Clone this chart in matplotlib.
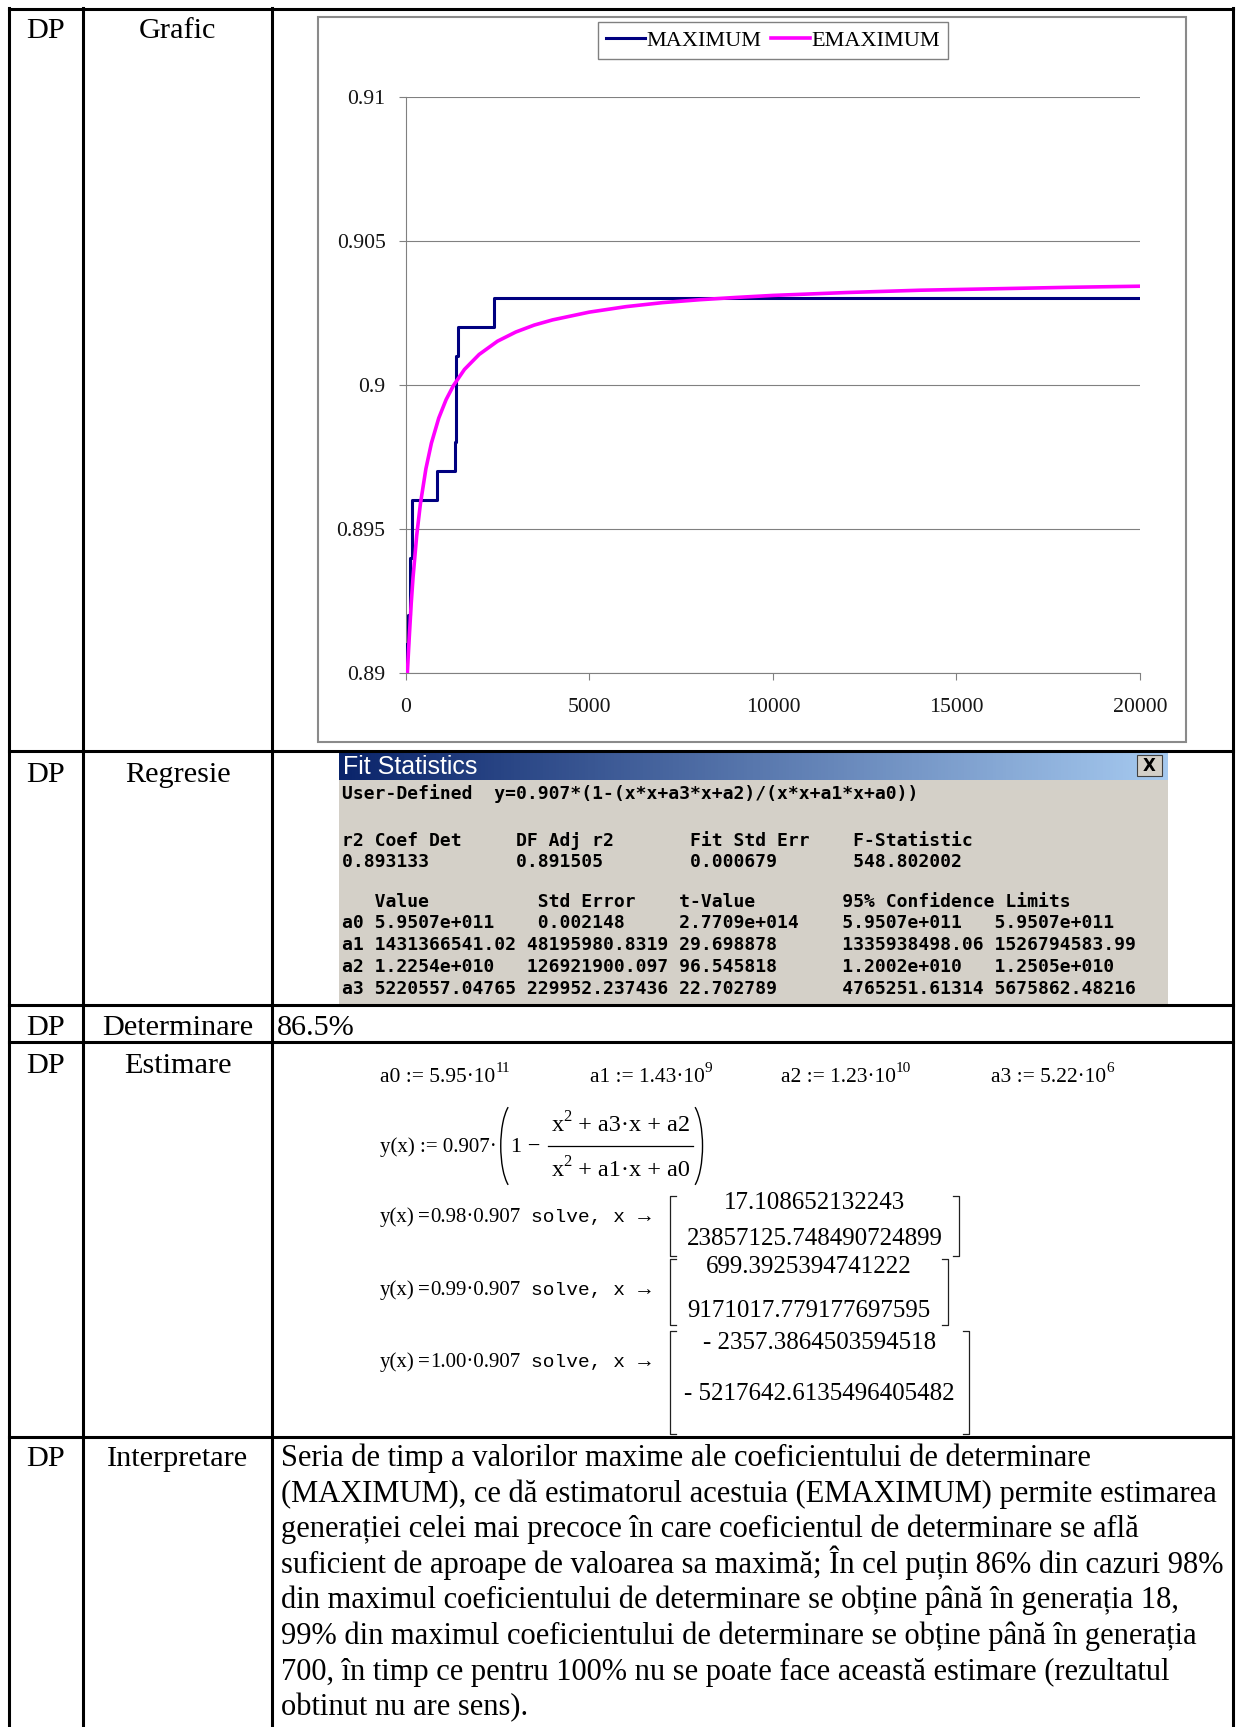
import numpy as np
import matplotlib
matplotlib.use("Agg")
import matplotlib.pyplot as plt
from matplotlib.patches import Rectangle, Arc
from matplotlib.colors import LinearSegmentedColormap
from matplotlib.ticker import FuncFormatter

plt.rcParams["font.family"] = ["Liberation Serif", "DejaVu Serif"]

W, H = 1236, 1727

# ---------------- chart data ----------------
# MAXIMUM: generation where each new best value first appears (step series)
max_gen = [0, 20, 60, 120, 170, 860, 1343, 1360, 1433, 2400, 20000]
max_val = [0.890, 0.891, 0.892, 0.894, 0.896, 0.897, 0.898, 0.901, 0.902, 0.903, 0.903]

# EMAXIMUM: estimator curve
emax_gen = [45, 100, 150, 200, 300, 400, 550, 700, 900, 1100, 1300, 1600, 2000,
            2500, 3000, 3500, 4000, 5000, 6000, 7000, 8000, 9000, 10000, 12000,
            14000, 16000, 18000, 20000]
emax_val = [0.89000, 0.89130, 0.89240, 0.89331, 0.89477, 0.89586, 0.89708, 0.89797,
            0.89884, 0.89948, 0.89997, 0.90053, 0.90105, 0.90151, 0.90183, 0.90207,
            0.90225, 0.90252, 0.90271, 0.90285, 0.90295, 0.90303, 0.90310, 0.90320,
            0.90328, 0.90333, 0.90338, 0.90342]

x_ticks = [0, 5000, 10000, 15000, 20000]
y_ticks = [0.89, 0.895, 0.9, 0.905, 0.91]
series_names = ["MAXIMUM", "EMAXIMUM"]

# ---------------- table text ----------------
row_code = "DP"
row_labels = ["Grafic", "Regresie", "Determinare", "Estimare", "Interpretare"]
determinare_value = "86.5%"

fit_title = "Fit Statistics"
fit_rows = [
    "User-Defined  y=0.907*(1-(x*x+a3*x+a2)/(x*x+a1*x+a0))",
    "r2 Coef Det     DF Adj r2       Fit Std Err    F-Statistic",
    "0.893133        0.891505        0.000679       548.802002",
    "   Value          Std Error    t-Value        95% Confidence Limits",
    "a0 5.9507e+011    0.002148     2.7709e+014    5.9507e+011   5.9507e+011",
    "a1 1431366541.02 48195980.8319 29.698878      1335938498.06 1526794583.99",
    "a2 1.2254e+010   126921900.097 96.545818      1.2002e+010   1.2505e+010",
    "a3 5220557.04765 229952.237436 22.702789      4765251.61314 5675862.48216",
]

coef_names = ["a0", "a1", "a2", "a3"]
coef_mant = ["5.95", "1.43", "1.23", "5.22"]
coef_exp = ["11", "9", "10", "6"]

solve_levels = ["0.98", "0.99", "1.00"]
solve_roots = [
    ["17.108652132243", "23857125.748490724899"],
    ["699.3925394741222", "9171017.779177697595"],
    ["- 2357.3864503594518", "- 5217642.6135496405482"],
]

interp_lines = [
    "Seria de timp a valorilor maxime ale coeficientului de determinare",
    "(MAXIMUM), ce dă estimatorul acestuia (EMAXIMUM) permite estimarea",
    "generației celei mai precoce în care coeficientul de determinare se află",
    "suficient de aproape de valoarea sa maximă; În cel puțin 86% din cazuri 98%",
    "din maximul coeficientului de determinare se obține până în generația 18,",
    "99% din maximul coeficientului de determinare se obține până în generația",
    "700, în timp ce pentru 100% nu se poate face această estimare (rezultatul",
    "obtinut nu are sens).",
]

# ---------------- figure & page ----------------
fig = plt.figure(figsize=(W / 100, H / 100), dpi=100)
fig.patch.set_facecolor("white")
page = fig.add_axes([0, 0, 1, 1])
page.set_xlim(0, W)
page.set_ylim(H, 0)
page.axis("off")
renderer = fig.canvas.get_renderer()

LBL = 21.8   # table font size
RULE = 2.2   # table rule width

# table grid
col_x = [9, 83, 272, 1233]
row_y = [9, 751, 1005, 1042, 1437]
for x in col_x:
    page.plot([x, x], [row_y[0] - 1, H + 5], color="black", lw=RULE,
              solid_capstyle="projecting", zorder=5)
for y in row_y:
    page.plot([col_x[0], col_x[-1]], [y, y], color="black", lw=RULE,
              solid_capstyle="projecting", zorder=5)

# row labels
label_base = [38, 782, 1035, 1073, 1466]
for lab, yb in zip(row_labels, label_base):
    page.text(46, yb, row_code, ha="center", va="baseline", fontsize=LBL)
    page.text(177.5, yb, lab, ha="center", va="baseline", fontsize=LBL)

page.text(277, 1035, determinare_value, ha="left", va="baseline", fontsize=LBL)

# ---------------- chart ----------------
page.add_patch(Rectangle((318, 17), 868, 725, facecolor="white",
                         edgecolor="#8a8a8a", lw=1.5, zorder=1))

ax = fig.add_axes([405.7 / W, 1 - 672.7 / H, (1140 - 405.7) / W, (672.7 - 96.7) / H])
ax.set_facecolor("none")
ax.step(max_gen, max_val, where="post", color="#000080", lw=2.2,
        label=series_names[0], zorder=3)
ax.plot(emax_gen, emax_val, color="#FF00FF", lw=2.6, label=series_names[1], zorder=4)
ax.set_xlim(0, 20000)
ax.set_ylim(0.89, 0.91)
ax.set_xticks(x_ticks)
ax.set_yticks(y_ticks)
ax.yaxis.set_major_formatter(FuncFormatter(lambda v, p: f"{v:g}"))
ax.xaxis.set_major_formatter(FuncFormatter(lambda v, p: f"{v:g}"))
ax.yaxis.grid(True, color="#808080", lw=0.8)
ax.set_axisbelow(True)
for s in ["top", "right"]:
    ax.spines[s].set_visible(False)
for s in ["left", "bottom"]:
    ax.spines[s].set_color("#808080")
    ax.spines[s].set_linewidth(0.8)
ax.tick_params(axis="both", direction="out", length=5, width=0.8, color="#808080",
               labelsize=15.7, labelcolor="#151515")
ax.tick_params(axis="y", pad=9.5)
ax.tick_params(axis="x", pad=13)

leg = ax.legend(loc="center", bbox_to_anchor=(773 / W, 1 - 40.5 / H),
                bbox_transform=fig.transFigure, ncol=2, frameon=True, fancybox=False,
                edgecolor="#606060", fontsize=16, handlelength=1.75,
                handletextpad=0.05, columnspacing=0.45, borderpad=0.35)
leg.get_frame().set_linewidth(1.0)

# ---------------- fit statistics panel ----------------
px0, px1, py0, py1 = 339, 1168, 753, 1004
page.add_patch(Rectangle((px0, py0), px1 - px0, py1 - py0, facecolor="#D4D0C8",
                         edgecolor="none", zorder=1))
title_cmap = LinearSegmentedColormap.from_list("title", ["#0A246A", "#A6CAF0"])
page.imshow(np.linspace(0, 1, 256)[None, :], extent=(px0, px1, 780, py0),
            cmap=title_cmap, aspect="auto", zorder=2)
page.text(343, 767, fit_title, color="white", fontsize=18, family="Liberation Sans",
          va="center", ha="left", zorder=3)
page.add_patch(Rectangle((1137, 755), 25, 21, facecolor="#D4D0C8", edgecolor="#404040",
                         lw=0.8, zorder=3))
page.text(1149.5, 766, "X", fontsize=12, family="DejaVu Sans", weight="bold",
          ha="center", va="center", zorder=4)

fit_y = [794, 840.5, 861.5, 902, 923, 945, 967, 989]
for s, y in zip(fit_rows, fit_y):
    page.text(341.6, y, s, family="DejaVu Sans Mono", fontsize=13.0, weight="bold",
              va="center", ha="left", zorder=3)

# ---------------- Mathcad-style estimation ----------------
MATH = 15.0


def chain(x, y, parts, size=MATH):
    """Lay text pieces left to right on the page; returns the end x."""
    for p in parts:
        txt = p[0]
        opts = dict(p[1]) if len(p) > 1 else {}
        gap = opts.pop("gap", 0.0)
        rise = opts.pop("rise", 0.0)
        sz = opts.pop("size", size)
        x += gap
        t = page.text(x, y - rise, txt, fontsize=sz, va="baseline", ha="left", **opts)
        x += t.get_window_extent(renderer).width
    return x


coef_x = [380, 590, 781, 991]
for n, m, e, x in zip(coef_names, coef_mant, coef_exp, coef_x):
    chain(x, 1082, [(f"{n} := {m}·10",), (e, {"size": 11, "rise": 10})], size=15.5)

# y(x) definition with a built-up fraction and tall parentheses
bar_y = 1146
FR = 17.5
PW, PH = 28, 88          # ellipse used for the tall parentheses
PANG = 80.4              # polar angle reaching ~62 deg of the ellipse parameter
xe = chain(380, bar_y + 6, [("y(x) := 0.907·",)])
pl = xe + 4
page.add_patch(Arc((pl + PW / 2, bar_y), PW, PH, theta1=180 - PANG, theta2=180 + PANG,
                   color="black", lw=1.0))
xe = chain(pl + 10, bar_y + 6, [("1 − ",)], size=16)
fx0 = xe + 2
n_end = chain(fx0 + 4, bar_y - 15, [("x",), ("2", {"size": 12, "rise": 10}),
                                     (" + a3·x + a2",)], size=FR)
d_end = chain(fx0 + 4, bar_y + 30, [("x",), ("2", {"size": 12, "rise": 10}),
                                     (" + a1·x + a0",)], size=FR)
fx1 = max(n_end, d_end) + 3
page.plot([fx0, fx1], [bar_y, bar_y], color="black", lw=0.9)
page.add_patch(Arc((fx1 + 2 - 6.6, bar_y), PW, PH, theta1=-PANG, theta2=PANG,
                   color="black", lw=1.0))


def bracket(x0, x1, y0, y1):
    k = dict(color="#202020", lw=0.9)
    page.plot([x0 + 6, x0, x0, x0 + 6], [y0, y0, y1, y1], **k)
    page.plot([x1 - 6, x1, x1, x1 - 6], [y0, y0, y1, y1], **k)


mat_box = [(670, 959, 1196, 1256), (670, 948, 1259, 1325), (670, 969, 1331, 1434)]
mat_rows = [(1203, 1239), (1267, 1311), (1343, 1394)]
solve_y = [1216, 1289, 1361]
for lvl, roots, (bx0, bx1, by0, by1), (r0, r1), cy in zip(
        solve_levels, solve_roots, mat_box, mat_rows, solve_y):
    chain(380, cy + 6, [("y(x)",), ("=", {"gap": 3, "weight": "bold"}),
                        (f"{lvl}·0.907", {"gap": 1}),
                        ("solve, x", {"gap": 10, "family": "Liberation Mono",
                                      "size": 14}),
                        ("→", {"gap": 9})])
    bracket(bx0, bx1, by0, by1)
    cx = (bx0 + bx1) / 2
    page.text(cx, r0, roots[0], ha="center", va="center", fontsize=18.0)
    page.text(cx, r1, roots[1], ha="center", va="center", fontsize=18.0)

# ---------------- interpretation ----------------
for i, line in enumerate(interp_lines):
    page.text(281, 1466 + i * 35.6, line, ha="left", va="baseline", fontsize=22)

page.set_xlim(0, W)
page.set_ylim(H, 0)
fig.savefig("out.png", dpi=100)
